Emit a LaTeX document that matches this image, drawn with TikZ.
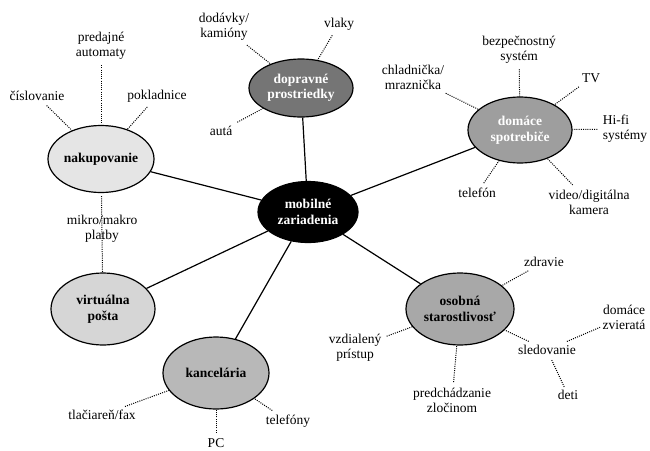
\documentclass[tikz,border=0pt]{standalone}
\usepackage{fontspec}
\setmainfont{Liberation Serif}
\usetikzlibrary{shapes.geometric}

\begin{document}
\begin{tikzpicture}[x=1pt,y=-1pt,line width=1.2pt,
  topic/.style={draw,ellipse,inner sep=0pt,align=center,font=\fontsize{13.5}{15.5}\selectfont\bfseries},
  leaf/.style={align=center,inner sep=2pt,font=\fontsize{13.5}{15}\selectfont},
  spoke/.style={line width=1pt,dash pattern=on 1pt off 1.2pt,shorten <=3pt}]

\useasboundingbox (0,0) rectangle (650,450);

\node[topic,fill=black,text=white,minimum width=100pt,minimum height=61pt] (mob) at (308,212) {mobilné\\zariadenia};
\node[topic,fill=black!54,text=white,minimum width=104pt,minimum height=58pt] (dop) at (301,88) {dopravné\\prostriedky};
\node[topic,fill=black!10,minimum width=106pt,minimum height=67pt] (nak) at (101,159) {nakupovanie};
\node[topic,fill=black!38,text=white,minimum width=104pt,minimum height=66pt] (dom) at (520,130) {domáce\\spotrebiče};
\node[topic,fill=black!16,minimum width=104pt,minimum height=72pt] (vp) at (103,309) {virtuálna\\pošta};
\node[topic,fill=black!28,minimum width=106pt,minimum height=72pt] (kan) at (216,373) {kancelária};
\node[topic,fill=black!34,minimum width=108pt,minimum height=72pt] (oso) at (460,309) {osobná\\starostlivosť};

\draw (mob) -- (dop);
\draw (mob) -- (nak);
\draw (mob) -- (dom);
\draw (mob) -- (vp);
\draw (mob) -- (kan);
\draw (mob) -- (oso);

% nakupovanie
\node[leaf] (pred) at (101,46) {predajné\\automaty};
\node[leaf] (cisl) at (37,96) {číslovanie};
\node[leaf] (pokl) at (157,96) {pokladnice};
\node[leaf] (plat) at (102,229) {mikro/makro\\platby};
\draw[spoke] (pred) -- (nak);
\draw[spoke] (cisl) -- (nak);
\draw[spoke] (pokl) -- (nak);
\draw[spoke] (nak) -- (vp);

% dopravne prostriedky
\node[leaf] (dod) at (224,27) {dodávky/\\kamióny};
\node[leaf] (vlak) at (339,24) {vlaky};
\node[leaf] (auta) at (221,131) {autá};
\draw[spoke] (dod) -- (dop);
\draw[spoke] (vlak) -- (dop);
\draw[spoke] (auta) -- (dop);

% domace spotrebice
\node[leaf] (chl) at (413,77) {chladnička/\\mraznička};
\node[leaf] (bez) at (519,50) {bezpečnostný\\systém};
\node[leaf] (tv) at (591,78) {TV};
\node[leaf,align=left] (hifi) at (625,129) {Hi-fi\\systémy};
\node[leaf] (tel) at (477,193) {telefón};
\node[leaf] (vid) at (589,202) {video/digitálna\\kamera};
\draw[spoke] (chl) -- (dom);
\draw[spoke] (bez) -- (dom);
\draw[spoke] (tv) -- (dom);
\draw[spoke] (hifi) -- (dom);
\draw[spoke] (tel) -- (dom);
\draw[spoke] (vid) -- (dom);

% kancelaria
\node[leaf] (tlac) at (102,415) {tlačiareň/fax};
\node[leaf] (pc) at (216,443) {PC};
\node[leaf] (tfn) at (288,421) {telefóny};
\draw[spoke] (tlac) -- (kan);
\draw[spoke] (pc) -- (kan);
\draw[spoke] (tfn) -- (kan);

% osobna starostlivost
\node[leaf] (zdr) at (544,262) {zdravie};
\node[leaf] (vzd) at (355,348) {vzdialený\\prístup};
\node[leaf] (zlo) at (452,400) {predchádzanie\\zločinom};
\node[leaf] (sled) at (547,350) {sledovanie};
\node[leaf] (zvi) at (624,317) {domáce\\zvieratá};
\node[leaf] (deti) at (568,395) {deti};
\draw[spoke] (zdr) -- (oso);
\draw[spoke] (vzd) -- (oso);
\draw[spoke] (zlo) -- (oso);
\draw[spoke] (sled) -- (oso);
\draw[spoke] (sled) -- (zvi);
\draw[spoke] (sled) -- (deti);

\end{tikzpicture}
\end{document}
